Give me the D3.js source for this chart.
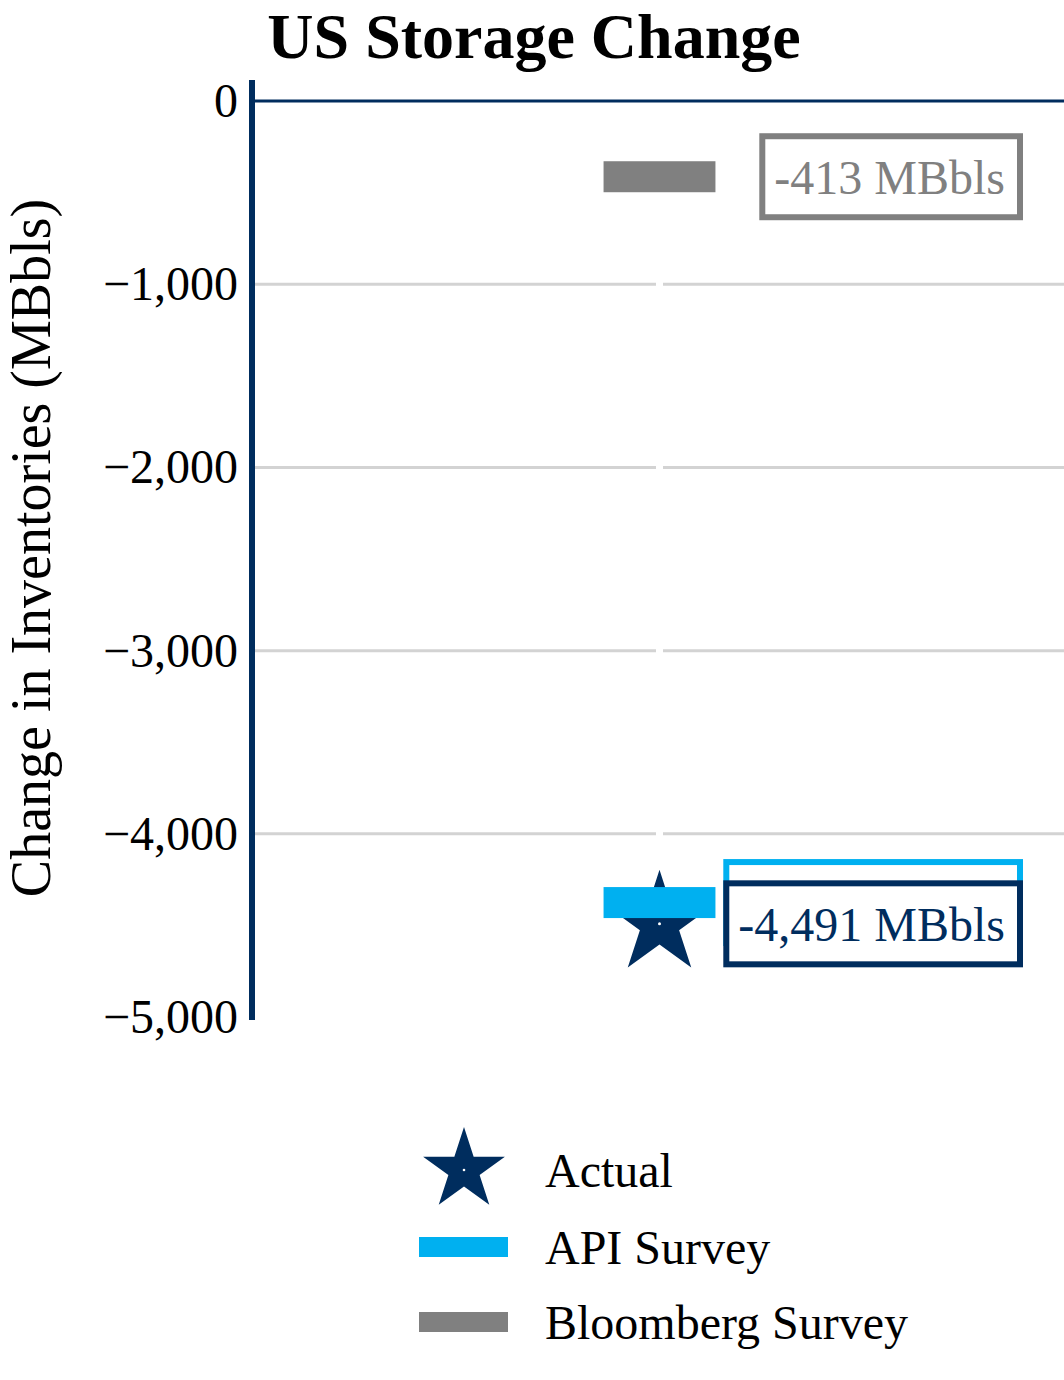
<!DOCTYPE html>
<html>
<head>
<meta charset="utf-8">
<script src="https://cdn.jsdelivr.net/npm/d3@7"></script>
<style>
  body { margin: 0; background: #fff; }
  text { font-family: "Liberation Serif", "Times New Roman", serif; }
</style>
</head>
<body>
<div id="chart"></div>
<script>
var categories = ["US"];
var actual = [-4491];
var apiSurvey = [-4375];
var bloomberg = [-413];
var yTicks = [0, -1000, -2000, -3000, -4000, -5000];
var legendNames = ["Actual", "API Survey", "Bloomberg Survey"];

var navy = "#002d5e";
var blue = "#00b0f0";
var grey = "#808080";

function init() {
    var w = 1064;
    var h = 1380;
    var left = 255;
    var right = 1064;
    var top = 80;
    var bottom = 1020;

    var svg = d3.select("#chart").append("svg").attr("width", w).attr("height", h);

    var xScale = d3.scaleBand().domain(categories).range([left, right]).padding(0.757);
    var yScale = d3.scaleLinear().domain([-5016, 115]).range([bottom, top]);
    var cx = function(d) { return xScale(d) + xScale.bandwidth() / 2; };

    // gridlines (none at 0 or at the bottom tick)
    svg.append("g")
        .selectAll("line")
        .data(yTicks.filter(function(d) { return d !== 0 && d !== -5000; }))
        .join("line")
        .attr("x1", left)
        .attr("x2", right)
        .attr("y1", function(d) { return yScale(d); })
        .attr("y2", function(d) { return yScale(d); })
        .attr("stroke", "#d3d3d3")
        .attr("stroke-width", 3);

    // white vertical category line
    svg.append("g")
        .selectAll("line")
        .data(categories)
        .join("line")
        .attr("x1", cx)
        .attr("x2", cx)
        .attr("y1", top)
        .attr("y2", bottom)
        .attr("stroke", "#fff")
        .attr("stroke-width", 7);

    // zero line
    svg.append("line")
        .attr("x1", left)
        .attr("x2", right)
        .attr("y1", yScale(0))
        .attr("y2", yScale(0))
        .attr("stroke", navy)
        .attr("stroke-width", 3);

    // y axis
    var yAxis = d3.axisLeft(yScale).tickValues(yTicks).tickFormat(d3.format(",")).tickSize(0).tickPadding(14);
    var gy = svg.append("g")
        .attr("transform", "translate(252,0)")
        .call(yAxis);
    gy.select(".domain").remove();
    gy.selectAll("text")
        .style("font-family", "'Liberation Serif', serif")
        .style("font-size", "48px")
        .attr("fill", "#000");
    svg.append("line")
        .attr("x1", 252)
        .attr("x2", 252)
        .attr("y1", top)
        .attr("y2", bottom)
        .attr("stroke", navy)
        .attr("stroke-width", 6);

    // survey bars
    var barH = 31;
    function drawBar(values, color) {
        svg.append("g")
            .selectAll("rect")
            .data(categories)
            .join("rect")
            .attr("x", function(d) { return xScale(d); })
            .attr("width", xScale.bandwidth())
            .attr("y", function(d, i) { return yScale(values[i]) - barH / 2; })
            .attr("height", barH)
            .attr("fill", color);
    }
    drawBar(bloomberg, grey);

    // star for actual (outer radius r)
    function starPath(r) {
        return d3.symbol().type(d3.symbolStar).size(r * r / 0.8908130915)();
    }
    svg.append("g")
        .selectAll("path")
        .data(categories)
        .join("path")
        .attr("transform", function(d, i) {
            return "translate(" + cx(d) + "," + yScale(actual[i]) + ")";
        })
        .attr("d", starPath(54))
        .attr("fill", navy);
    drawBar(apiSurvey, blue);
    svg.append("g")
        .selectAll("circle")
        .data(categories)
        .join("circle")
        .attr("cx", cx)
        .attr("cy", function(d, i) { return yScale(actual[i]); })
        .attr("r", 1.5)
        .attr("fill", "#fff");

    // value labels
    var fmt = function(v) { return d3.format(",")(v).replace("\u2212", "-") + " MBbls"; };
    var boxRight = 1020;
    function box(value, color, x0) {
        return svg.append("rect")
            .attr("x", x0)
            .attr("y", yScale(value) - 40.5)
            .attr("width", boxRight - x0)
            .attr("height", 81)
            .attr("fill", "#fff")
            .attr("stroke", color)
            .attr("stroke-width", 6);
    }
    function label(value, color) {
        var g = svg.append("g");
        var t = g.append("text")
            .attr("x", 1005)
            .attr("y", yScale(value))
            .attr("dy", "0.35em")
            .attr("text-anchor", "end")
            .style("font-size", "48px")
            .attr("fill", color)
            .text(fmt(value));
        var bb = t.node().getBBox();
        g.insert("rect", "text")
            .attr("x", bb.x - 12)
            .attr("y", yScale(value) - 40.5)
            .attr("width", boxRight - (bb.x - 12))
            .attr("height", 81)
            .attr("fill", "#fff")
            .attr("stroke", color)
            .attr("stroke-width", 6);
        return bb.x - 12;
    }
    label(bloomberg[0], grey);
    // API label box sits under the actual label box (its text is fully covered)
    var apiBox = box(apiSurvey[0], blue, 0);
    var x0 = label(actual[0], navy);
    apiBox.attr("x", x0).attr("width", boxRight - x0);

    // title
    svg.append("text")
        .attr("x", 534)
        .attr("y", 58)
        .attr("text-anchor", "middle")
        .style("font-size", "64px")
        .style("font-weight", "bold")
        .text("US Storage Change");

    // y axis title
    svg.append("text")
        .attr("transform", "translate(50,548) rotate(-90)")
        .attr("text-anchor", "middle")
        .style("font-size", "56px")
        .text("Change in Inventories (MBbls)");

    // legend
    var legY = [1170, 1247, 1322];
    var lg = svg.append("g");
    lg.append("path")
        .attr("transform", "translate(464," + legY[0] + ")")
        .attr("d", starPath(43))
        .attr("fill", navy);
    lg.append("circle").attr("cx", 464).attr("cy", legY[0]).attr("r", 1.3).attr("fill", "#fff");
    lg.append("rect").attr("x", 419).attr("y", legY[1] - 10).attr("width", 89).attr("height", 20).attr("fill", blue);
    lg.append("rect").attr("x", 419).attr("y", legY[2] - 10).attr("width", 89).attr("height", 20).attr("fill", grey);
    lg.selectAll("text.leg")
        .data(legendNames)
        .join("text")
        .attr("class", "leg")
        .attr("x", 545)
        .attr("y", function(d, i) { return legY[i]; })
        .attr("dy", "0.35em")
        .style("font-size", "48px")
        .text(function(d) { return d; });
}

window.onload = init;
</script>
</body>
</html>
